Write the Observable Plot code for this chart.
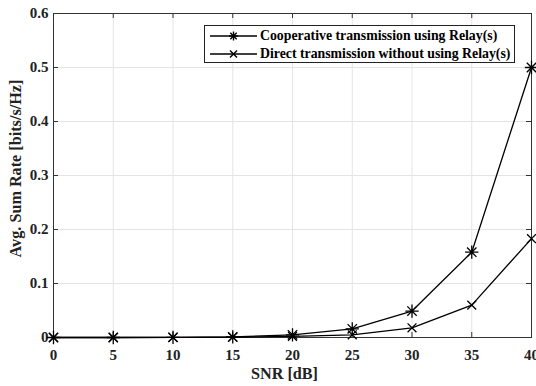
<!DOCTYPE html>
<html>
<head>
<meta charset="utf-8">
<script src="https://cdn.jsdelivr.net/npm/d3@7"></script>
<script src="https://cdn.jsdelivr.net/npm/@observablehq/plot@0.6"></script>
<style>
  body { margin: 0; background: #fff; }
  #wrap { position: relative; width: 536px; height: 386px; font-family: "Liberation Serif", serif; }
  #legend { position: absolute; left: 204px; top: 25px; width: 311px; height: 38px; border: 1px solid #222; background: #fff; font-weight: bold; font-size: 13.8px; box-sizing: border-box; color: #000; }
  .row { position: absolute; left: 0; height: 18px; display: flex; align-items: center; white-space: nowrap; }
  .row svg { margin-left: 5px; margin-right: 3px; }
</style>
</head>
<body>
<div id="wrap"></div>
<script>
const snr = [0, 5, 10, 15, 20, 25, 30, 35, 40];
const coop = [0, 0, 0.0003, 0.001, 0.005, 0.016, 0.049, 0.158, 0.5];
const direct = [0, 0, 0.0001, 0.0005, 0.002, 0.005, 0.018, 0.06, 0.183];
const seriesNames = ["Cooperative transmission using Relay(s)", "Direct transmission without using Relay(s)"];
const xTicks = [0, 5, 10, 15, 20, 25, 30, 35, 40];
const yTicks = [0, 0.1, 0.2, 0.3, 0.4, 0.5, 0.6];

const asterisk8 = {
  draw(ctx, size) {
    const r = Math.sqrt(size) * 0.75;
    for (let i = 0; i < 4; i++) {
      const a = i * Math.PI / 4;
      ctx.moveTo(-r * Math.cos(a), -r * Math.sin(a));
      ctx.lineTo(r * Math.cos(a), r * Math.sin(a));
    }
  }
};
const timesSym = {
  draw(ctx, size) {
    const r = Math.sqrt(size) * 0.5;
    ctx.moveTo(-r, -r); ctx.lineTo(r, r);
    ctx.moveTo(-r, r); ctx.lineTo(r, -r);
  }
};

const coopData = snr.map((x, i) => ({x, y: coop[i]}));
const directData = snr.map((x, i) => ({x, y: direct[i]}));

const W = 536, H = 386, mt = 13, mb = 49, ml = 53, mr = 5;
const tickY = 0.6 * 5 / (H - mt - mb);
const tickX = 40 * 5 / (W - ml - mr);

const chart = Plot.plot({
  width: W, height: H,
  marginTop: mt, marginBottom: mb, marginLeft: ml, marginRight: mr,
  style: { fontFamily: "Liberation Serif, serif", fontWeight: "bold", fontSize: "15px", color: "#222", background: "#fff" },
  x: { domain: [0, 40] },
  y: { domain: [0, 0.6] },
  marks: [
    Plot.ruleX(xTicks, { stroke: "#e4e4e4", strokeWidth: 1 }),
    Plot.ruleY(yTicks, { stroke: "#e4e4e4", strokeWidth: 1 }),
    Plot.ruleX(xTicks, { y1: 0, y2: tickY, stroke: "#333" }),
    Plot.ruleX(xTicks, { y1: 0.6, y2: 0.6 - tickY, stroke: "#333" }),
    Plot.ruleY(yTicks, { x1: 0, x2: tickX, stroke: "#333" }),
    Plot.ruleY(yTicks, { x1: 40, x2: 40 - tickX, stroke: "#333" }),
    Plot.frame({ stroke: "#333", strokeWidth: 1 }),
    Plot.axisX({ ticks: xTicks, tickSize: 0, tickPadding: 12, fontSize: 15, label: null }),
    Plot.axisY({ ticks: yTicks, tickSize: 0, tickPadding: 5, fontSize: 15, label: null, tickFormat: d => d === 0 ? "0" : d3.format(".1f")(d) }),
    Plot.line(directData, { x: "x", y: "y", stroke: "#000", strokeWidth: 1.3 }),
    Plot.line(coopData, { x: "x", y: "y", stroke: "#000", strokeWidth: 1.3 }),
    Plot.dot(directData, { x: "x", y: "y", symbol: timesSym, r: 5, stroke: "#000", strokeWidth: 1.3, fill: "none" }),
    Plot.dot(coopData, { x: "x", y: "y", symbol: asterisk8, r: 5, stroke: "#000", strokeWidth: 1.3, fill: "none" }),
    Plot.text(["SNR [dB]"], { frameAnchor: "bottom", textAnchor: "middle", lineAnchor: "middle", dx: -8, dy: 36, fontSize: 16.2, fill: "#222" }),
    Plot.text(["Avg. Sum Rate [bits/s/Hz]"], { frameAnchor: "left", textAnchor: "middle", lineAnchor: "middle", dx: -38, dy: -7, rotate: -90, fontSize: 16.2, fill: "#222" })
  ]
});

const wrap = document.getElementById("wrap");
wrap.appendChild(chart);

const legend = document.createElement("div");
legend.id = "legend";
const rowSvg = (kind) => {
  const mark = kind === 0
    ? [0,1,2,3].map(i => { const a = i*Math.PI/4, r = 4.5; return `<line x1="${23.5 - r*Math.cos(a)}" y1="${6 - r*Math.sin(a)}" x2="${23.5 + r*Math.cos(a)}" y2="${6 + r*Math.sin(a)}"/>`; }).join("")
    : `<line x1="20" y1="2.5" x2="27" y2="9.5"/><line x1="20" y1="9.5" x2="27" y2="2.5"/>`;
  return `<svg width="47" height="12" stroke="#000" stroke-width="1.4" fill="none"><line x1="0" y1="6" x2="47" y2="6" stroke-width="1.5"/>${mark}</svg>`;
};
seriesNames.forEach((name, i) => {
  const row = document.createElement("div");
  row.className = "row";
  row.style.top = (1 + i * 17.5) + "px";
  row.innerHTML = rowSvg(i) + `<span>${name}</span>`;
  legend.appendChild(row);
});
wrap.appendChild(legend);
</script>
</body>
</html>
